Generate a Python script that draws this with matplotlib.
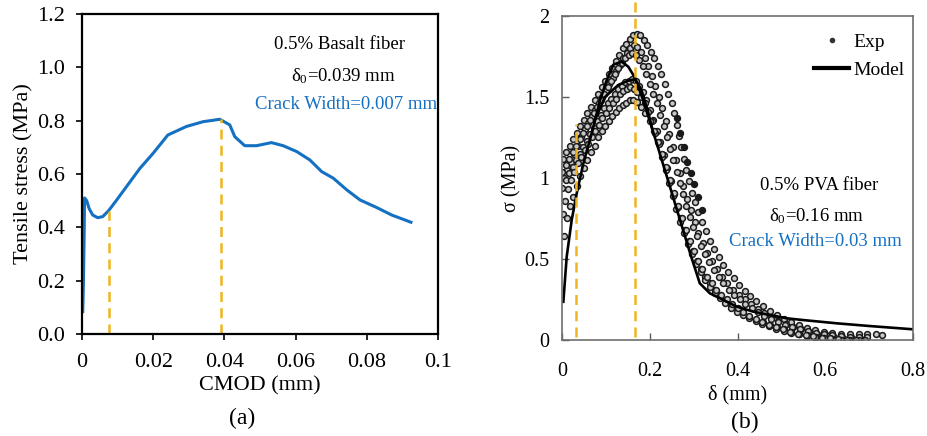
"""

Tensile stress vs CMOD (basalt fiber) and sigma-delta curves (PVA fiber)

"""

#%%

import numpy as np
import matplotlib.pyplot as plt
from matplotlib.lines import Line2D

plt.rcParams['font.family'] = ['Liberation Serif', 'DejaVu Serif']
plt.rcParams['mathtext.fontset'] = 'custom'
plt.rcParams['mathtext.rm'] = 'Liberation Serif'
plt.rcParams['mathtext.default'] = 'regular'

#%%

#Panel (a) data: basalt fiber curve

cmod = [0.0002, 0.0004, 0.0006, 0.0007, 0.0013, 0.0020, 0.0030, 0.0044, 0.0058,
        0.0075, 0.0096, 0.0129, 0.0162, 0.0200, 0.0241, 0.0293, 0.0340, 0.0387,
        0.0415, 0.0429, 0.0457, 0.0490, 0.0532, 0.0565, 0.0603, 0.0640, 0.0673,
        0.0706, 0.0744, 0.0781, 0.0828, 0.0870, 0.0924]
stress = [0.084, 0.20, 0.38, 0.51, 0.50, 0.47, 0.446, 0.436, 0.44,
          0.463, 0.50, 0.56, 0.62, 0.678, 0.746, 0.778, 0.796, 0.805,
          0.784, 0.74, 0.706, 0.706, 0.7175, 0.706, 0.684, 0.6525, 0.609,
          0.584, 0.54, 0.5025, 0.474, 0.446, 0.419]

a_marks_x = [0.0075, 0.039]
a_marks_top = [0.463, 0.805]

a_xticks = [0, 0.02, 0.04, 0.06, 0.08, 0.1]
a_xticklabels = ['0', '0.02', '0.04', '0.06', '0.08', '0.1']
a_yticks = [0.0, 0.2, 0.4, 0.6, 0.8, 1.0, 1.2]
a_yticklabels = ['0.0', '0.2', '0.4', '0.6', '0.8', '1.0', '1.2']

#%%

#Panel (b) data: model curves and experimental points

model_d = [0.003, 0.0106, 0.022, 0.0334, 0.0486, 0.0676, 0.0866, 0.102, 0.117,
           0.136, 0.151, 0.166, 0.185, 0.204, 0.223, 0.246, 0.269, 0.292, 0.314,
           0.337, 0.368, 0.398, 0.436, 0.474, 0.512, 0.55, 0.626, 0.702, 0.80]
model_s = [0.236, 0.514, 0.74, 0.905, 1.09, 1.276, 1.48, 1.605, 1.70,
           1.718, 1.687, 1.62, 1.48, 1.317, 1.15, 0.946, 0.74, 0.535, 0.35,
           0.288, 0.247, 0.206, 0.175, 0.154, 0.134, 0.123, 0.103, 0.086, 0.066]

model2_d = [0.075, 0.098, 0.128, 0.150, 0.166, 0.180, 0.195, 0.205]
model2_s = [1.358, 1.50, 1.574, 1.60, 1.61, 1.55, 1.42, 1.31]

exp1_d = [0.002, 0.010, 0.018, 0.026, 0.034, 0.042, 0.050, 0.058, 0.066, 0.074,
          0.082, 0.090, 0.098, 0.106, 0.114, 0.122, 0.130, 0.138, 0.146, 0.154,
          0.162, 0.170,
          0.178, 0.186, 0.194, 0.202, 0.210, 0.218, 0.226, 0.234, 0.242, 0.250,
          0.256, 0.262, 0.267, 0.272, 0.277, 0.283, 0.289, 0.296, 0.303, 0.311,
          0.319, 0.328, 0.337, 0.347, 0.357, 0.368, 0.379, 0.391, 0.403, 0.416,
          0.429, 0.443, 0.458, 0.473, 0.489, 0.505, 0.522, 0.540, 0.558, 0.577,
          0.596, 0.616, 0.636, 0.656, 0.676, 0.696, 0.716, 0.730]
exp1_s = [1.12, 1.16, 1.20, 1.24, 1.28, 1.32, 1.36, 1.40, 1.44, 1.48,
          1.52, 1.56, 1.60, 1.64, 1.68, 1.72, 1.76, 1.80, 1.83, 1.86,
          1.88, 1.89,
          1.88, 1.85, 1.82, 1.78, 1.74, 1.69, 1.64, 1.58, 1.52, 1.46,
          1.40, 1.33, 1.26, 1.19, 1.12, 1.05, 0.98, 0.91, 0.85, 0.79,
          0.73, 0.67, 0.61, 0.56, 0.51, 0.46, 0.42, 0.38, 0.34, 0.30,
          0.27, 0.24, 0.21, 0.18, 0.155, 0.13, 0.11, 0.09, 0.075, 0.06,
          0.05, 0.045, 0.04, 0.035, 0.035, 0.035, 0.035, 0.03]

exp2_d = [0.000, 0.008, 0.016, 0.024, 0.032, 0.040, 0.048, 0.056, 0.064, 0.072,
          0.080, 0.088, 0.096, 0.104, 0.112, 0.120, 0.128, 0.136, 0.144, 0.152,
          0.160,
          0.168, 0.176, 0.184, 0.192, 0.200, 0.208, 0.216, 0.224, 0.232, 0.240,
          0.247, 0.254, 0.261, 0.268, 0.275, 0.283, 0.291, 0.299, 0.308, 0.317,
          0.326, 0.336, 0.346, 0.357, 0.368, 0.380, 0.392, 0.405, 0.418, 0.432,
          0.446, 0.461, 0.476, 0.492, 0.508, 0.525, 0.542, 0.560, 0.578, 0.597,
          0.616, 0.636, 0.656, 0.676, 0.696]
exp2_s = [1.04, 1.08, 1.12, 1.16, 1.20, 1.24, 1.28, 1.32, 1.36, 1.40,
          1.44, 1.48, 1.52, 1.56, 1.60, 1.64, 1.68, 1.71, 1.74, 1.76,
          1.77,
          1.76, 1.73, 1.69, 1.64, 1.58, 1.52, 1.46, 1.39, 1.32, 1.25,
          1.18, 1.11, 1.04, 0.97, 0.90, 0.83, 0.76, 0.70, 0.64, 0.58,
          0.53, 0.48, 0.43, 0.39, 0.35, 0.31, 0.28, 0.25, 0.22, 0.195,
          0.17, 0.15, 0.13, 0.11, 0.095, 0.08, 0.065, 0.055, 0.045, 0.035,
          0.03, 0.025, 0.02, 0.02, 0.02]

exp3_d = [0.000, 0.008, 0.016, 0.024, 0.032, 0.040, 0.048, 0.056, 0.064, 0.072,
          0.080, 0.088, 0.096, 0.104, 0.112, 0.120, 0.128, 0.136, 0.144, 0.152,
          0.160,
          0.168, 0.176, 0.184, 0.192, 0.200, 0.208, 0.216, 0.224, 0.232, 0.240,
          0.248, 0.256, 0.264, 0.272, 0.280, 0.289, 0.298, 0.307, 0.317, 0.327,
          0.338, 0.349, 0.361, 0.373, 0.386, 0.399, 0.413, 0.427, 0.442, 0.457,
          0.473, 0.489, 0.506, 0.523, 0.541, 0.559, 0.578, 0.597, 0.616, 0.636,
          0.656, 0.676]
exp3_s = [0.94, 0.99, 1.03, 1.07, 1.11, 1.15, 1.19, 1.23, 1.27, 1.31,
          1.35, 1.39, 1.43, 1.46, 1.49, 1.52, 1.55, 1.57, 1.59, 1.60,
          1.61,
          1.60, 1.57, 1.53, 1.48, 1.42, 1.36, 1.29, 1.22, 1.14, 1.06,
          0.98, 0.90, 0.82, 0.75, 0.68, 0.61, 0.55, 0.49, 0.44, 0.39,
          0.35, 0.31, 0.275, 0.245, 0.215, 0.19, 0.165, 0.145, 0.125, 0.11,
          0.095, 0.08, 0.065, 0.05, 0.04, 0.03, 0.02, 0.012, 0.006, 0.003,
          0.0, 0.0]

exp4_d = [0.004, 0.011, 0.018, 0.026, 0.034, 0.042, 0.050, 0.058, 0.066, 0.074,
          0.082, 0.090, 0.098, 0.106, 0.114, 0.122, 0.130, 0.138, 0.146, 0.154,
          0.162,
          0.170, 0.180, 0.190, 0.200, 0.210, 0.219, 0.228, 0.237, 0.246, 0.255,
          0.264, 0.273, 0.282, 0.291, 0.300, 0.310, 0.320, 0.330, 0.341, 0.352,
          0.363, 0.375, 0.387, 0.400, 0.413, 0.427, 0.441, 0.456, 0.471, 0.487,
          0.503, 0.520, 0.537, 0.555, 0.573, 0.592, 0.611, 0.630, 0.650, 0.670,
          0.690]
exp4_s = [0.64, 0.75, 0.83, 0.88, 0.95, 1.01, 1.06, 1.11, 1.16, 1.20,
          1.25, 1.29, 1.32, 1.35, 1.38, 1.41, 1.43, 1.45, 1.46, 1.48,
          1.48,
          1.47, 1.44, 1.40, 1.35, 1.29, 1.22, 1.15, 1.07, 0.99, 0.91,
          0.83, 0.75, 0.68, 0.61, 0.55, 0.49, 0.44, 0.39, 0.35, 0.31,
          0.28, 0.25, 0.22, 0.195, 0.17, 0.15, 0.13, 0.11, 0.095, 0.08,
          0.065, 0.052, 0.04, 0.03, 0.022, 0.015, 0.01, 0.005, 0.002, 0.0,
          0.0]

exp6_d = [0.004, 0.012, 0.020, 0.028, 0.036, 0.044, 0.052, 0.060, 0.068, 0.076,
          0.084, 0.092, 0.100, 0.108, 0.116, 0.124, 0.132, 0.140, 0.148, 0.156,
          0.164,
          0.172, 0.180, 0.188, 0.196, 0.204, 0.212, 0.220, 0.228, 0.236, 0.244,
          0.252, 0.260, 0.268, 0.276, 0.284, 0.293, 0.302, 0.311, 0.321, 0.331,
          0.342, 0.353, 0.365, 0.377, 0.390, 0.403, 0.417, 0.431, 0.446, 0.461,
          0.477, 0.493, 0.510, 0.527, 0.545, 0.563, 0.582, 0.601, 0.620, 0.640,
          0.660, 0.680]
exp6_s = [1.00, 1.05, 1.10, 1.15, 1.20, 1.25, 1.30, 1.34, 1.38, 1.42,
          1.46, 1.50, 1.54, 1.58, 1.62, 1.66, 1.70, 1.74, 1.77, 1.80,
          1.82,
          1.81, 1.78, 1.74, 1.69, 1.63, 1.57, 1.50, 1.43, 1.35, 1.27,
          1.19, 1.11, 1.03, 0.95, 0.87, 0.80, 0.73, 0.66, 0.60, 0.54,
          0.49, 0.44, 0.39, 0.35, 0.31, 0.28, 0.25, 0.22, 0.19, 0.165,
          0.14, 0.12, 0.10, 0.08, 0.065, 0.05, 0.04, 0.03, 0.02, 0.015,
          0.01, 0.01]

exp7_d = [0.002, 0.007, 0.013, 0.020, 0.028, 0.036, 0.044, 0.052, 0.060, 0.068,
          0.076, 0.084, 0.092, 0.100, 0.108, 0.116, 0.124, 0.132, 0.140, 0.148,
          0.156,
          0.164, 0.172, 0.180, 0.188, 0.196, 0.204, 0.212, 0.220, 0.228, 0.236,
          0.244, 0.252, 0.260, 0.269, 0.278, 0.287, 0.296, 0.306, 0.316, 0.326,
          0.337, 0.348, 0.360, 0.372, 0.385, 0.398, 0.412, 0.426, 0.441, 0.456,
          0.472, 0.488, 0.505, 0.522, 0.540, 0.558, 0.577, 0.596, 0.615, 0.635,
          0.655]
exp7_s = [0.78, 0.86, 0.93, 0.99, 1.04, 1.09, 1.13, 1.17, 1.21, 1.25,
          1.29, 1.33, 1.37, 1.40, 1.43, 1.46, 1.49, 1.52, 1.54, 1.55,
          1.56,
          1.55, 1.53, 1.50, 1.46, 1.41, 1.35, 1.28, 1.21, 1.13, 1.05,
          0.97, 0.89, 0.81, 0.73, 0.66, 0.59, 0.53, 0.47, 0.42, 0.37,
          0.33, 0.29, 0.26, 0.23, 0.20, 0.175, 0.155, 0.135, 0.115, 0.10,
          0.085, 0.07, 0.057, 0.045, 0.035, 0.025, 0.017, 0.01, 0.005, 0.002,
          0.0]

#darker, sparser points on the steep drop
exp5_d = [0.261, 0.269, 0.277, 0.284, 0.293, 0.301, 0.309, 0.318]
exp5_s = [1.37, 1.28, 1.19, 1.10, 1.03, 0.96, 0.88, 0.80]

b_marks_x = [0.031, 0.167]
b_marks_bottom = [0.02, 0.02]
b_marks_top = [1.336, 2.09]

b_xticks = [0, 0.2, 0.4, 0.6, 0.8]
b_xticklabels = ['0', '0.2', '0.4', '0.6', '0.8']
b_yticks = [0, 0.5, 1, 1.5, 2]
b_yticklabels = ['0', '0.5', '1', '1.5', '2']

#%%

blue = '#1370C2'
orange = '#F0B41E'

fig = plt.figure(figsize=(9.27, 4.36), dpi=100)

#Panel (a)

ax1 = fig.add_axes([0.0885, 0.234, 0.384, 0.734])
ax1.plot(cmod, stress, color=blue, lw=2.2)
for xm, ym in zip(a_marks_x, a_marks_top):
    ax1.plot([xm, xm], [0, ym], color=orange, lw=1.8, ls=(0, (4, 2.5)))
ax1.set_xlim(0, 0.1)
ax1.set_ylim(0, 1.2)
ax1.set_xticks(a_xticks)
ax1.set_xticklabels(a_xticklabels)
ax1.set_yticks(a_yticks)
ax1.set_yticklabels(a_yticklabels)
ax1.tick_params(direction='out', length=4, width=1.2, labelsize=16, pad=8)
ax1.tick_params(axis='x', pad=10)
for sp in ax1.spines.values():
    sp.set_linewidth(1.6)
ax1.set_xlabel('CMOD (mm)', fontsize=16, labelpad=3)
ax1.set_ylabel('Tensile stress (MPa)', fontsize=16, labelpad=3)

ax1.text(0.0724, 1.084, '0.5% Basalt fiber', fontsize=13.5, ha='center', va='center')
ax1.text(0.0735, 0.967, 'δ$_0$=0.039 mm', fontsize=13.5, ha='center', va='center')
ax1.text(0.0741, 0.859, 'Crack Width=0.007 mm', fontsize=13.5, ha='center',
         va='center', color=blue)

fig.text(0.261, 0.04, '(a)', fontsize=17, ha='center', va='center')

#Panel (b)

ax2 = fig.add_axes([0.6063, 0.2202, 0.3786, 0.7431])
exp_sets = [(exp1_d, exp1_s), (exp6_d, exp6_s), (exp2_d, exp2_s),
            (exp3_d, exp3_s), (exp7_d, exp7_s), (exp4_d, exp4_s)]
for d, s in exp_sets:
    ax2.plot(d, s, ls='none', marker='o', ms=4.2, mfc='#c8c8c8', mec='#1a1a1a', mew=1.1)
ax2.plot(exp5_d, exp5_s, ls='none', marker='o', ms=4.2, mfc='#1a1a1a', mec='#1a1a1a', mew=1.1)
ax2.plot(model_d, model_s, color='black', lw=1.9)
ax2.plot(model2_d, model2_s, color='black', lw=1.9)
for xm, y0, y1 in zip(b_marks_x, b_marks_bottom, b_marks_top):
    ax2.plot([xm, xm], [y0, y1], color=orange, lw=1.8, ls=(0, (4, 2.5)), clip_on=False)
ax2.set_xlim(0, 0.8)
ax2.set_ylim(0, 2)
ax2.set_xticks(b_xticks)
ax2.set_xticklabels(b_xticklabels)
ax2.set_yticks(b_yticks)
ax2.set_yticklabels(b_yticklabels)
ax2.tick_params(direction='in', length=5, width=1, color='#595959', labelsize=14.5)
ax2.tick_params(axis='x', pad=16)
ax2.tick_params(axis='y', pad=9)
for sp in ax2.spines.values():
    sp.set_linewidth(1.2)
    sp.set_color('#6e6e6e')
ax2.set_xlabel('δ (mm)', fontsize=14.5, labelpad=3)
ax2.set_ylabel('σ (MPa)', fontsize=14.5, labelpad=2)

ax2.text(0.587, 0.951, '0.5% PVA fiber', fontsize=13.5, ha='center', va='center')
ax2.text(0.579, 0.765, 'δ$_0$=0.16 mm', fontsize=13.5, ha='center', va='center')
ax2.text(0.577, 0.605, 'Crack Width=0.03 mm', fontsize=13.5, ha='center',
         va='center', color=blue)

handles = [Line2D([], [], ls='none', marker='o', ms=3, color='#333333'),
           Line2D([], [], color='black', lw=3)]
ax2.legend(handles, ['Exp', 'Model'], loc='upper right', frameon=False,
           fontsize=14, handlelength=1.8, handletextpad=0.2, labelspacing=0.55,
           borderaxespad=0.4, bbox_to_anchor=(1.02, 0.995))

fig.text(0.804, 0.032, '(b)', fontsize=17, ha='center', va='center')

fig.savefig('out.png', dpi=100)
